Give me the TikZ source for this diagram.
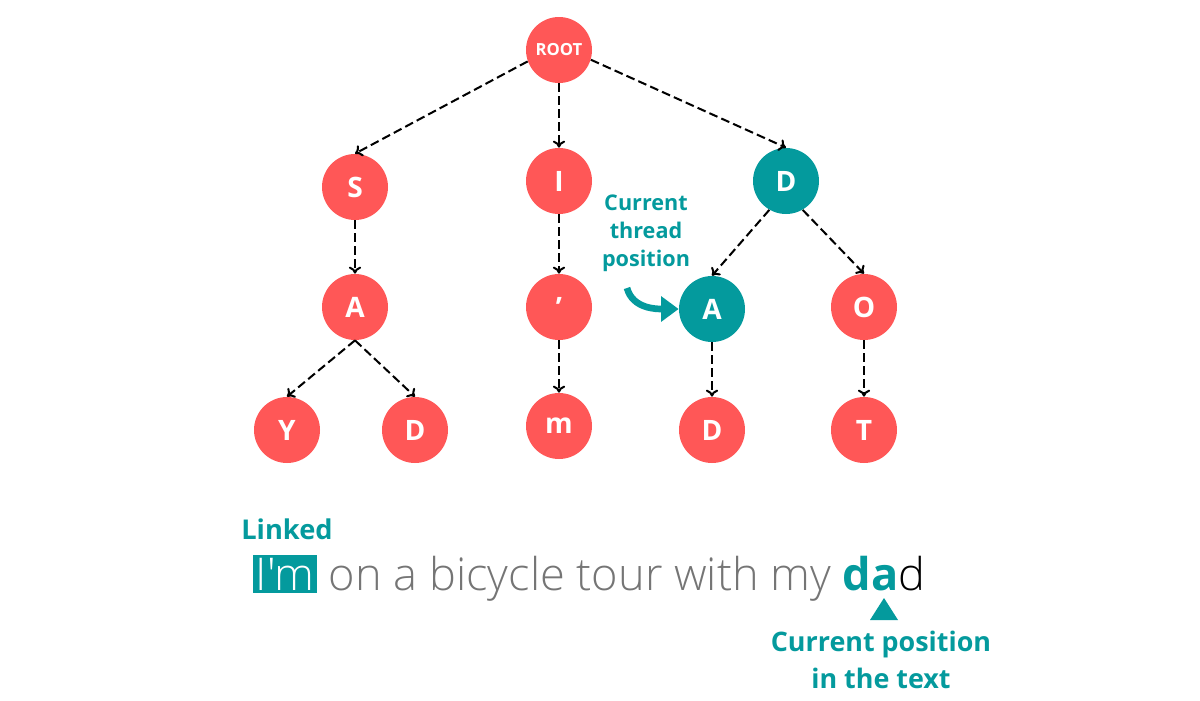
\documentclass[tikz,border=0pt]{standalone}
\usepackage{fontspec}
\setmainfont{Open Sans}
\newfontfamily\oslight{Open Sans Light}
\usetikzlibrary{arrows.meta}
\definecolor{nred}{HTML}{FF5757}
\definecolor{nteal}{HTML}{049A9D}
\definecolor{sgrey}{HTML}{757575}
\begin{document}
\begin{tikzpicture}[x=0.02cm,y=-0.02cm,
  nd/.style={circle,fill=nred,minimum size=66*0.02cm,inner sep=0pt,text=white,font=\bfseries\fontsize{16}{18}\selectfont},
  tnd/.style={nd,fill=nteal},
  edge/.style={draw=black,dash pattern=on 5pt off 2.4pt,line width=1.15pt,-{To[length=4pt,width=7pt]}},
  lbl/.style={text=nteal,font=\bfseries\fontsize{12.3}{16}\selectfont,align=center}]
\useasboundingbox (0,0) rectangle (1200,700);
\node[nd,font=\bfseries\fontsize{9.5}{11}\selectfont] (root) at (559,50) {ROOT};
\node[nd] (s) at (355,187) {S};
\node[nd] (i) at (559,181) {I};
\node[tnd] (d1) at (786,181) {D};
\node[nd] (a1) at (355,307) {A};
\node[nd] (ap) at (559,307) {\symbol{39}};
\node[tnd] (a2) at (712,309) {A};
\node[nd] (o) at (864,307) {O};
\node[nd] (y) at (287,430) {Y};
\node[nd] (d2) at (415,430) {D};
\node[nd] (m) at (559,426) {m};
\node[nd] (d3) at (712,430) {D};
\node[nd] (t) at (864,430) {T};
\draw[edge] (root.200) -- (s.north);
\draw[edge] (root.south) -- (i.north);
\draw[edge] (root.-17) -- (d1.north);
\draw[edge] (s.south) -- (a1.north);
\draw[edge] (i.south) -- (ap.north);
\draw[edge] (d1.240) -- (a2.north);
\draw[edge] (d1.300) -- (o.north);
\draw[edge] (a1.south) -- (y.north);
\draw[edge] (a1.south) -- (d2.north);
\draw[edge] (ap.south) -- (m.north);
\draw[edge] (a2.south) -- (d3.north);
\draw[edge] (o.south) -- (t.north);
\node[lbl] (ctp) at (646,233) {Current\\thread\\position};
\coordinate (cs) at (627,288);
\draw[nteal,line width=3.8pt,-{Triangle[length=10pt,width=14pt]}] (cs) to[out=-75,in=180] (a2.west);
\node[text=nteal,font=\bfseries\fontsize{15.5}{18}\selectfont,anchor=base west,inner sep=0pt] (linked) at (241,539) {Linked};
\node[anchor=base west,inner sep=0pt,font=\oslight\fontsize{25.7}{30}\selectfont] (sent) at (253,590) {\setlength{\fboxsep}{1.5pt}\colorbox{nteal}{\textcolor{white}{I\symbol{39}m}}\textcolor{sgrey}{\ on a bicycle tour with my\ }\textcolor{nteal}{\fontspec{Open Sans}\bfseries da}\textcolor{black}{d}};
\fill[nteal] (884,598) -- (898,620) -- (870,620) -- cycle;
\node[text=nteal,font=\bfseries\fontsize{15.3}{21}\selectfont,align=center] (cpt) at (881,660) {Current position\\in the text};
\end{tikzpicture}
\end{document}
